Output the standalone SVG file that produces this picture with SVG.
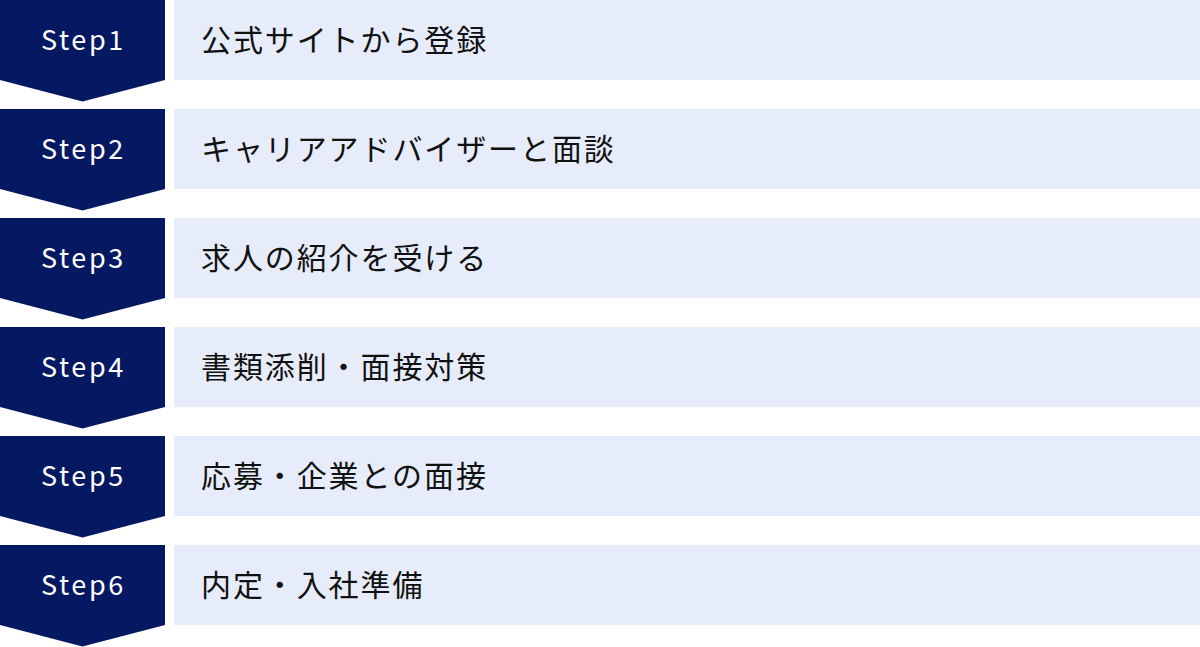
<svg xmlns="http://www.w3.org/2000/svg" width="1200" height="647" viewBox="0 0 1200 647">
<defs>
<style>
.chev{fill:#051862;}
.box{fill:#E6ECF9;}
.lbl{font-family:"Noto Sans CJK JP","Noto Sans",sans-serif;font-size:27px;fill:#FFFFFF;letter-spacing:2.6px;}
.txt{font-family:"Noto Sans CJK JP","Noto Sans",sans-serif;font-size:30px;fill:#111111;letter-spacing:1.9px;}
</style>
<path id="chevShape" d="M0 0H165V80L82.5 101.5L0 80Z"/>
</defs>
<rect width="1200" height="647" fill="#FFFFFF"/>
<g id="connectors"></g>
<g id="step1" transform="translate(0,0)">
<use href="#chevShape" class="chev"/>
<rect class="box" x="174" y="0" width="1026" height="80"/>
<text class="lbl" x="41" y="49.5">Step1</text>
<text class="txt" x="201" y="51">公式サイトから登録</text>
</g>
<g id="step2" transform="translate(0,109)">
<use href="#chevShape" class="chev"/>
<rect class="box" x="174" y="0" width="1026" height="80"/>
<text class="lbl" x="41" y="49.5">Step2</text>
<text class="txt" x="201" y="51">キャリアアドバイザーと面談</text>
</g>
<g id="step3" transform="translate(0,218)">
<use href="#chevShape" class="chev"/>
<rect class="box" x="174" y="0" width="1026" height="80"/>
<text class="lbl" x="41" y="49.5">Step3</text>
<text class="txt" x="201" y="51">求人の紹介を受ける</text>
</g>
<g id="step4" transform="translate(0,327)">
<use href="#chevShape" class="chev"/>
<rect class="box" x="174" y="0" width="1026" height="80"/>
<text class="lbl" x="41" y="49.5">Step4</text>
<text class="txt" x="201" y="51">書類添削・面接対策</text>
</g>
<g id="step5" transform="translate(0,436)">
<use href="#chevShape" class="chev"/>
<rect class="box" x="174" y="0" width="1026" height="80"/>
<text class="lbl" x="41" y="49.5">Step5</text>
<text class="txt" x="201" y="51">応募・企業との面接</text>
</g>
<g id="step6" transform="translate(0,545)">
<use href="#chevShape" class="chev"/>
<rect class="box" x="174" y="0" width="1026" height="80"/>
<text class="lbl" x="41" y="49.5">Step6</text>
<text class="txt" x="201" y="51">内定・入社準備</text>
</g>
</svg>
